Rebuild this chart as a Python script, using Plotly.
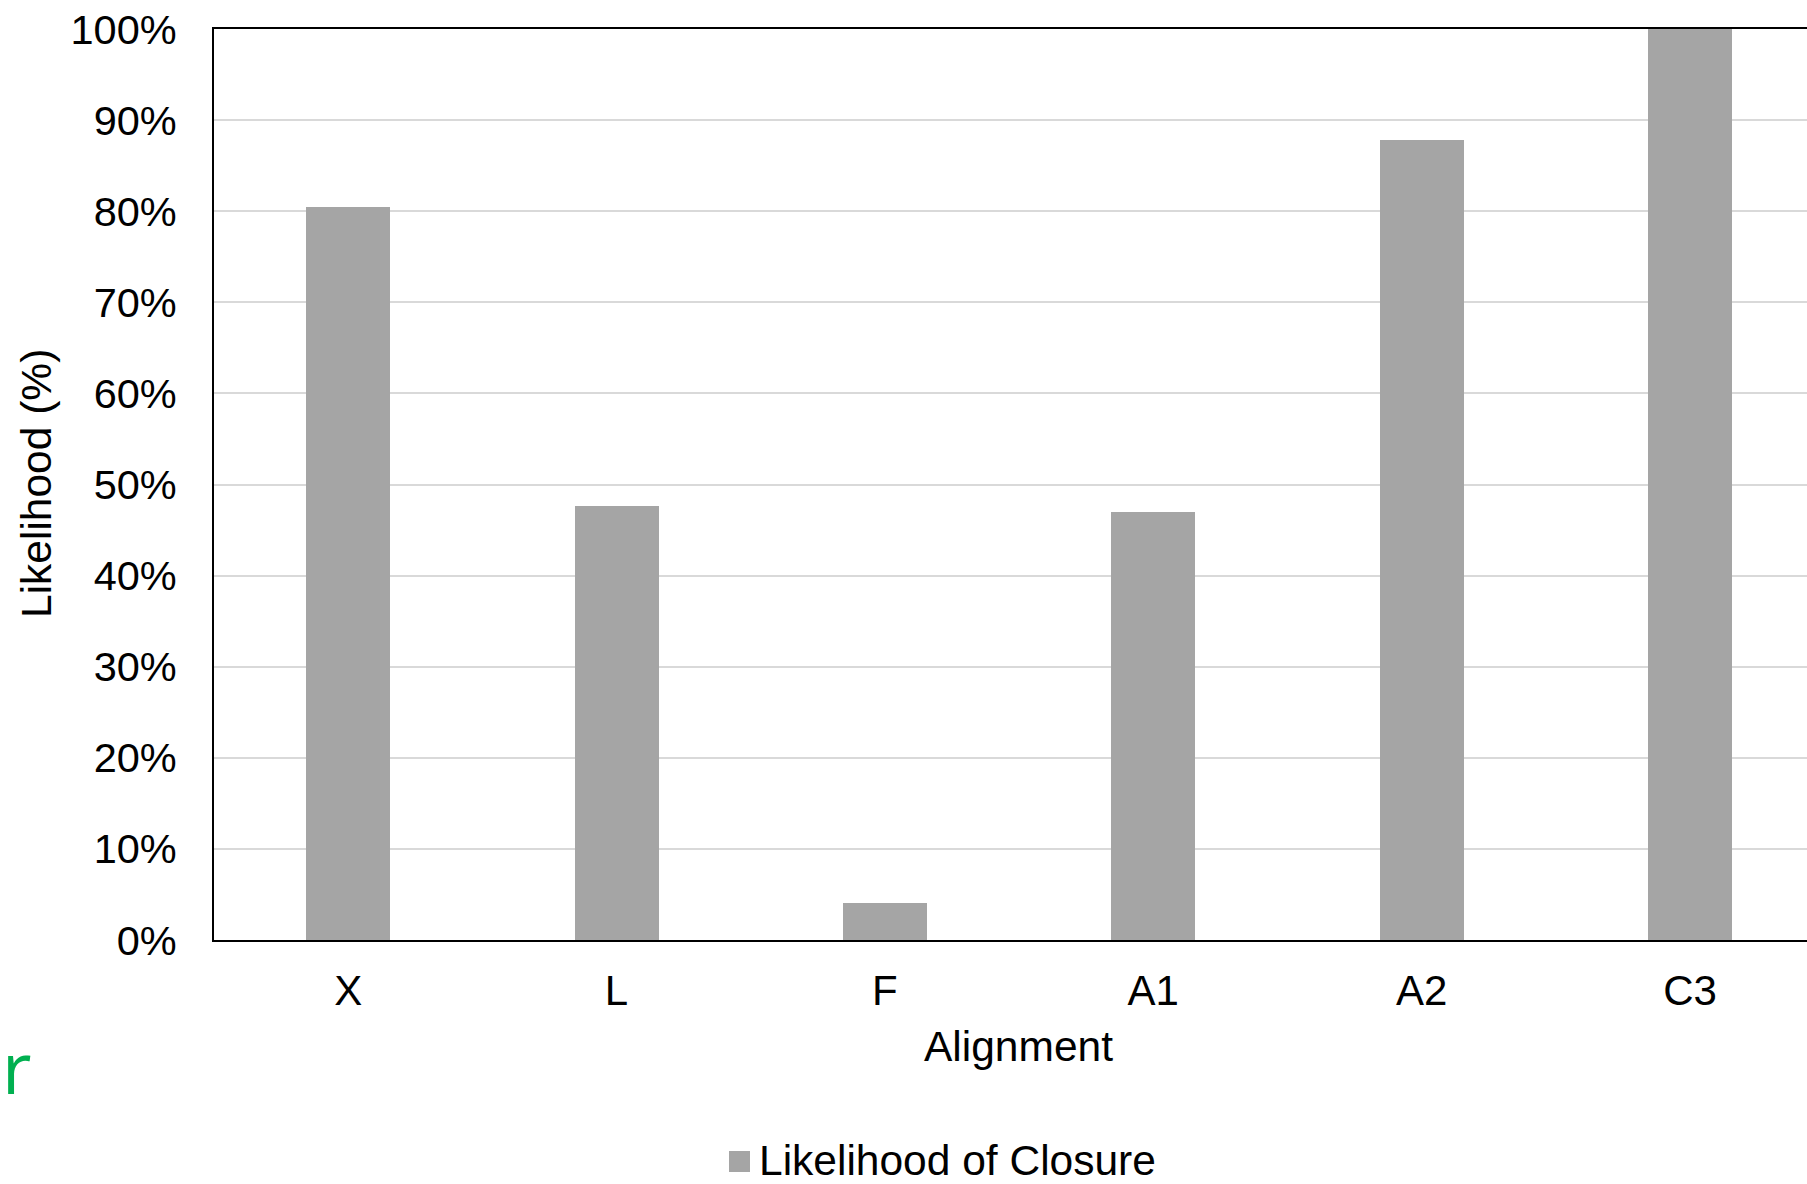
import plotly.graph_objects as go

# Closure likelihood per alignment
alignments = ["X", "L", "F", "A1", "A2", "C3"]
likelihood_pct = [80.5, 47.6, 4.1, 47.0, 87.8, 100.0]
y_ticks = [0, 10, 20, 30, 40, 50, 60, 70, 80, 90, 100]
y_tick_labels = [f"{v}%" for v in y_ticks]
series_name = "Likelihood of Closure"

W, H = 1807, 1184
L_M, R_M, T_M, B_M = 214, 0, 29, 244
plot_w = W - L_M - R_M
plot_h = H - T_M - B_M

BAR_COLOR = "#a5a5a5"
FONT = "Liberation Sans, Arial, sans-serif"
FS = 42.5


def px_x(px):
    return (px - L_M) / plot_w


def px_y(py):
    return (H - B_M - py) / plot_h


fig = go.Figure()
fig.add_trace(go.Bar(
    x=list(range(len(alignments))),
    y=likelihood_pct,
    width=0.313,
    marker=dict(color=BAR_COLOR, line=dict(width=0)),
    name=series_name,
    showlegend=False,
))

fig.update_layout(
    width=W, height=H,
    margin=dict(l=L_M, r=R_M, t=T_M, b=B_M, pad=0),
    paper_bgcolor="white", plot_bgcolor="white",
    font=dict(family=FONT, size=FS, color="black"),
    showlegend=False,
    bargap=0,
)

fig.update_xaxes(
    range=[-0.5, 5.436],
    tickmode="array",
    tickvals=list(range(len(alignments))),
    ticktext=alignments,
    tickfont=dict(size=42),
    showgrid=False,
    showline=True, linecolor="black", linewidth=2, mirror=True,
    ticks="", ticklabelstandoff=13,
    zeroline=False,
)
fig.update_yaxes(
    range=[0, 100],
    tickmode="array",
    tickvals=y_ticks,
    ticktext=y_tick_labels,
    tickfont=dict(size=41.5),
    showgrid=True, gridcolor="#d9d9d9", gridwidth=1.5,
    showline=True, linecolor="black", linewidth=2, mirror=False,
    ticks="", ticklabelstandoff=27,
    zeroline=False,
)

# axis titles
fig.add_annotation(
    text="Alignment", xref="paper", yref="paper",
    x=px_x(1019), y=px_y(1046), xanchor="center", yanchor="middle",
    showarrow=False, font=dict(family=FONT, size=FS, color="black"),
)
fig.add_annotation(
    text="Likelihood (%)", xref="paper", yref="paper",
    x=px_x(37), y=px_y(484), xanchor="center", yanchor="middle",
    textangle=-90, showarrow=False,
    font=dict(family=FONT, size=FS, color="black"),
)

# legend entry
fig.add_shape(
    type="rect", xref="paper", yref="paper",
    x0=px_x(729), x1=px_x(750), y0=px_y(1172), y1=px_y(1151),
    fillcolor=BAR_COLOR, line=dict(width=0),
)
fig.add_annotation(
    text=series_name, xref="paper", yref="paper",
    x=px_x(757), y=px_y(1160), xanchor="left", yanchor="middle",
    showarrow=False, font=dict(family=FONT, size=FS, color="black"),
)

# green fragment at the left edge
fig.add_annotation(
    text="r", xref="paper", yref="paper",
    x=px_x(0), y=px_y(1066), xanchor="left", yanchor="middle",
    showarrow=False, font=dict(family="Open Sans, sans-serif", size=72, color="#00b050"),
)

fig.write_html("out.html")
